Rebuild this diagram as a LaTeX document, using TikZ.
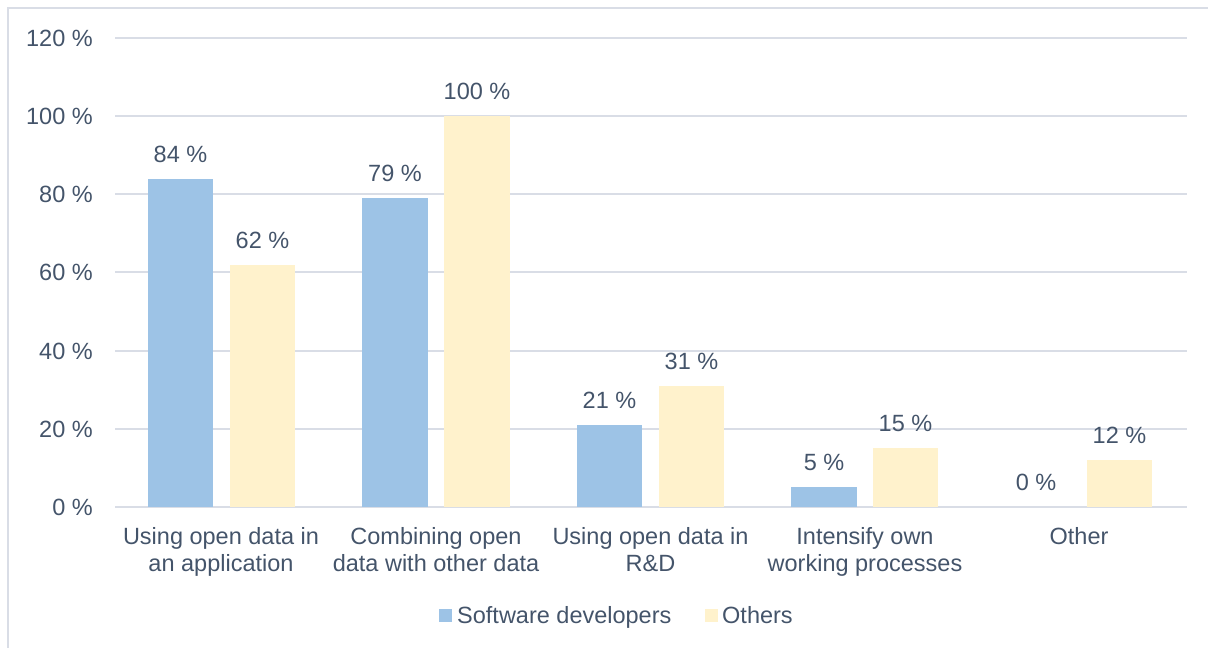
\documentclass[tikz,border=0pt]{standalone}
\usepackage{fontspec}
\setmainfont{Liberation Sans}
\usepackage{tikz}
\usetikzlibrary{positioning}

\definecolor{sdblue}{HTML}{9DC3E6}
\definecolor{otyellow}{HTML}{FFF2CC}
\definecolor{txtgray}{HTML}{44546A}
\definecolor{gridgray}{HTML}{D9DDE6}

\begin{document}
\begin{tikzpicture}
    [
    x=1pt,y=-1pt,
    every node/.style={text=txtgray,font=\fontsize{23.5}{27}\selectfont,inner sep=0pt},
    tick/.style={anchor=base east},
    value/.style={anchor=base},
    category/.style={anchor=base,align=center},
    grid line/.style={draw=gridgray,line width=2pt},
    sdbar/.style={fill=sdblue},
    otbar/.style={fill=otyellow},
    ]
    \useasboundingbox (0,0) rectangle (1208,648);
    % frame (only top and left edge visible)
    \draw [draw=gridgray,line width=2pt] (8,648) -- (8,8) -- (1208,8);

    % grid and y labels
    \foreach \k/\lab in {0/0,1/20,2/40,3/60,4/80,5/100,6/120}
    {
      \draw [grid line] (115,{507-78.17*\k}) -- (1187,{507-78.17*\k});
      \node (y\k) at (93,{515.5-78.17*\k}) [tick] {\lab~\%};
    }

    % bars
    \fill [sdbar] (148,507) rectangle (213,{507-3.9085*84});
    \fill [otbar] (230,507) rectangle (295,{507-3.9085*62});
    \fill [sdbar] (362,507) rectangle (428,{507-3.9085*79});
    \fill [otbar] (444,507) rectangle (510,{507-3.9085*100});
    \fill [sdbar] (577,507) rectangle (642,{507-3.9085*21});
    \fill [otbar] (659,507) rectangle (724,{507-3.9085*31});
    \fill [sdbar] (791,507) rectangle (857,{507-3.9085*5});
    \fill [otbar] (873,507) rectangle (938,{507-3.9085*15});
    \fill [otbar] (1087,507) rectangle (1152,{507-3.9085*12});

    % value labels
    \node (v1) at (180.5,{490.5-3.9085*84}) [value] {84~\%};
    \node (v2) at (262.5,{490.5-3.9085*62}) [value] {62~\%};
    \node (v3) at (395,{490.5-3.9085*79}) [value] {79~\%};
    \node (v4) at (477,{490.5-3.9085*100}) [value] {100~\%};
    \node (v5) at (609.5,{490.5-3.9085*21}) [value] {21~\%};
    \node (v6) at (691.5,{490.5-3.9085*31}) [value] {31~\%};
    \node (v7) at (824,{490.5-3.9085*5}) [value] {5~\%};
    \node (v8) at (905.5,{490.5-3.9085*15}) [value] {15~\%};
    \node (v9) at (1036,{490.5}) [value] {0~\%};
    \node (v10) at (1119.5,{490.5-3.9085*12}) [value] {12~\%};

    % category labels (base = last line)
    \node (c1) at (221,571) [category] {Using open data in\\an application};
    \node (c2) at (436,571) [category] {Combining open\\data with other data};
    \node (c3) at (650.5,571) [category] {Using open data in\\R\&D};
    \node (c4) at (865,571) [category] {Intensify own\\working processes};
    \node (c5) at (1079,544) [category] {Other};

    % legend
    \node (ksd) at (445.5,615.5) [sdbar,minimum size=13pt] {};
    \node (lsd) at (457,623) [anchor=base west] {Software developers};
    \node (kot) at (711.5,615.5) [otbar,minimum size=13pt] {};
    \node (lot) at (722,623) [anchor=base west] {Others};
\end{tikzpicture}
\end{document}
